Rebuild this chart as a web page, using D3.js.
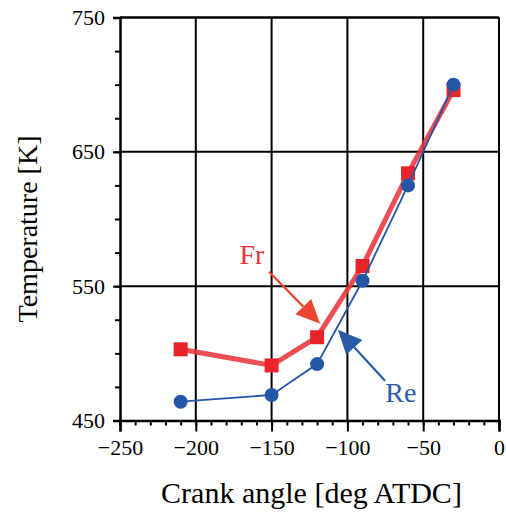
<!DOCTYPE html>
<html>
<head>
<meta charset="utf-8">
<script src="https://cdn.jsdelivr.net/npm/d3@7"></script>
<style>
  body { margin: 0; background: #fff; }
  svg { display: block; }
  svg text { font-family: "Liberation Serif", "Times New Roman", serif; }
</style>
</head>
<body>
<div id="chart"></div>
<script>
// crank angle [deg ATDC]
const angles = [-210, -150, -120, -90, -60, -30];
const reTemp = [464, 469, 492, 554, 625, 700];
const frTemp = [503, 491, 512, 565, 634, 696];

const xTicks = [-250, -200, -150, -100, -50, 0];
const yTicks = [450, 550, 650, 750];

const width = 506;
const height = 514;
const margin = {top: 17.5, right: 7, bottom: 93.5, left: 120};
const w = width - margin.left - margin.right;
const h = height - margin.top - margin.bottom;

const svg = d3.select("#chart")
    .append("svg")
        .attr("width", width)
        .attr("height", height);

const g = svg.append("g")
    .attr("transform", `translate(${margin.left}, ${margin.top})`);

const x = d3.scaleLinear().domain([-250, 0]).range([0, w]);
const y = d3.scaleLinear().domain([450, 750]).range([h, 0]);

// grid lines
g.append("g")
    .selectAll("line.vg")
    .data(xTicks.slice(1))
    .enter().append("line")
        .attr("x1", d => x(d)).attr("x2", d => x(d))
        .attr("y1", 0).attr("y2", h)
        .attr("stroke", "#000").attr("stroke-width", 2);

g.append("g")
    .selectAll("line.hg")
    .data(yTicks.slice(1))
    .enter().append("line")
        .attr("x1", 0).attr("x2", w)
        .attr("y1", d => y(d)).attr("y2", d => y(d))
        .attr("stroke", "#000").attr("stroke-width", 2);

// minor ticks
g.append("g")
    .attr("transform", `translate(0, ${h})`)
    .call(d3.axisBottom(x).tickValues(d3.range(-250, 1, 10)).tickSize(5).tickFormat(""))
    .call(a => a.select(".domain").remove())
    .selectAll("line").attr("stroke-width", 2);

g.append("g")
    .call(d3.axisLeft(y).tickValues(d3.range(450, 751, 25)).tickSize(5).tickFormat(""))
    .call(a => a.select(".domain").remove())
    .selectAll("line").attr("stroke-width", 2);

// major axes
const xAxis = g.append("g")
    .attr("transform", `translate(0, ${h})`)
    .call(d3.axisBottom(x).tickValues(xTicks).tickSize(11).tickPadding(8)
        .tickFormat(d => d < 0 ? "\u2212" + Math.abs(d) : d))
    .attr("font-family", "Liberation Serif")
    .attr("font-size", 22);
xAxis.select(".domain").attr("stroke-width", 2.5);
xAxis.selectAll("line").attr("stroke-width", 2);
xAxis.selectAll("text").attr("fill", "#000");

const yAxis = g.append("g")
    .call(d3.axisLeft(y).tickValues(yTicks).tickSize(7).tickPadding(8))
    .attr("font-family", "Liberation Serif")
    .attr("font-size", 22);
yAxis.select(".domain").attr("stroke-width", 2.5);
yAxis.selectAll("line").attr("stroke-width", 2);
yAxis.selectAll("text").attr("fill", "#000");

// top and right border
g.append("line").attr("x1", 0).attr("x2", w).attr("y1", 0).attr("y2", 0)
    .attr("stroke", "#000").attr("stroke-width", 2);
g.append("line").attr("x1", w).attr("x2", w).attr("y1", 0).attr("y2", h)
    .attr("stroke", "#000").attr("stroke-width", 2);

// Fr series
const line = d3.line().x((d, i) => x(angles[i])).y(d => y(d));
g.append("path")
    .datum(frTemp)
    .attr("d", line)
    .attr("fill", "none")
    .attr("stroke", "#e9353b")
    .attr("stroke-width", 5)
    .attr("stroke-opacity", 0.88);

g.selectAll("rect.fr")
    .data(frTemp)
    .enter().append("rect")
        .attr("x", (d, i) => x(angles[i]) - 7)
        .attr("y", d => y(d) - 7)
        .attr("width", 14)
        .attr("height", 14)
        .attr("fill", "#e8242a");

// Re series
g.append("path")
    .datum(reTemp)
    .attr("d", line)
    .attr("fill", "none")
    .attr("stroke", "#2456a6")
    .attr("stroke-width", 1.8);

g.selectAll("circle.re")
    .data(reTemp)
    .enter().append("circle")
        .attr("cx", (d, i) => x(angles[i]))
        .attr("cy", d => y(d))
        .attr("r", 7)
        .attr("fill", "#2456a6");

// annotations
function arrow(x1, y1, x2, y2, color) {
    const px1 = x(x1), py1 = y(y1), px2 = x(x2), py2 = y(y2);
    const ang = Math.atan2(py2 - py1, px2 - px1);
    const len = 24, half = 11;
    const bx = px2 - len * Math.cos(ang), by = py2 - len * Math.sin(ang);
    g.append("line")
        .attr("x1", px1).attr("y1", py1).attr("x2", bx).attr("y2", by)
        .attr("stroke", color).attr("stroke-width", 2.2);
    const pts = [
        [px2, py2],
        [bx + half * Math.sin(ang), by - half * Math.cos(ang)],
        [bx - half * Math.sin(ang), by + half * Math.cos(ang)]
    ];
    g.append("polygon")
        .attr("points", pts.map(p => p.join(",")).join(" "))
        .attr("fill", color);
}

arrow(-151.7, 560.8, -118, 522, "#ea4630");
arrow(-75.2, 479.6, -106.2, 517.6, "#2a5ba8");

g.append("text")
    .attr("x", x(-163)).attr("y", y(566.8))
    .attr("text-anchor", "middle")
    .attr("font-size", 28)
    .attr("fill", "#e8303a")
    .text("Fr");

g.append("text")
    .attr("x", x(-64.7)).attr("y", y(464))
    .attr("text-anchor", "middle")
    .attr("font-size", 28)
    .attr("fill", "#2a5ba8")
    .text("Re");

// axis titles
svg.append("text")
    .attr("x", 311.5).attr("y", 503)
    .attr("text-anchor", "middle")
    .attr("font-size", 30)
    .text("Crank angle [deg ATDC]");

svg.append("text")
    .attr("transform", "translate(37, 229) rotate(-90)")
    .attr("text-anchor", "middle")
    .attr("font-size", 28)
    .text("Temperature [K]");
</script>
</body>
</html>
